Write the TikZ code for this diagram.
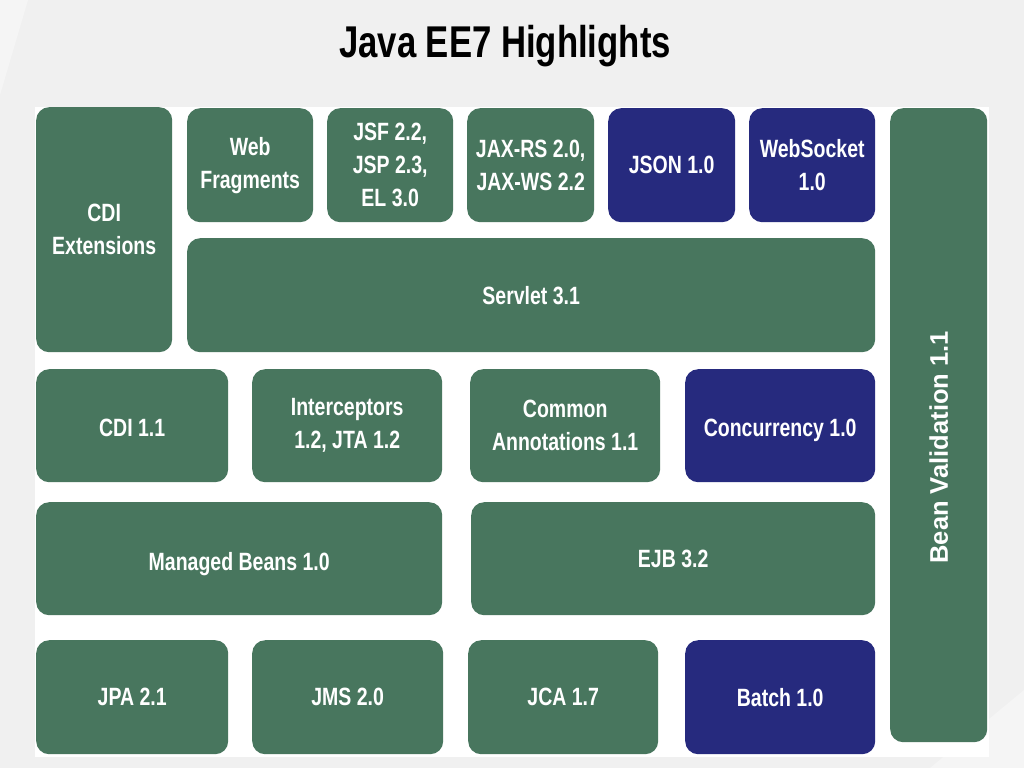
\documentclass[tikz,border=0pt]{standalone}
\usepackage{fontspec}
\setmainfont{Liberation Sans}
\newfontfamily\narrowfont[FakeStretch=0.78]{Liberation Sans}
\definecolor{bggray}{HTML}{F0F0F0}
\definecolor{eegreen}{HTML}{48765E}
\definecolor{eenavy}{HTML}{262A7E}
\tikzset{
  boxtext/.style={inner sep=0pt, text=white, align=center, font=\narrowfont\bfseries\fontsize{25}{33}\selectfont},
  box/.style={boxtext, rounded corners=13pt, anchor=north west},
  gbox/.style={box, fill=eegreen},
  nbox/.style={box, fill=eenavy},
}
\begin{document}
\begin{tikzpicture}[x=1pt,y=-1pt]
\fill[bggray] (0,0) rectangle (1024,768);
\useasboundingbox (0,0) rectangle (1024,768);
% faint decorative diagonals
\fill[white,opacity=0.35] (0,0) -- (28,0) -- (0,95) -- cycle;
\fill[white,opacity=0.35] (1024,690) -- (1024,768) -- (930,768) -- cycle;
% title
\node[font=\narrowfont\bfseries\fontsize{44.5}{50}\selectfont, anchor=base] (title) at (505,57) {Java EE7 Highlights};
% white panel
\fill[white] (35,107) rectangle (989,757);
% row 1
\node[gbox, minimum width=136pt, minimum height=245pt] (cdiext) at (36,107) {CDI\\Extensions};
\node[gbox, minimum width=126pt, minimum height=114pt] (webfrag) at (187,108) {Web\\Fragments};
\node[gbox, minimum width=126pt, minimum height=114pt] (jsf) at (327,108) {JSF 2.2,\\JSP 2.3,\\EL 3.0};
\node[gbox, minimum width=127pt, minimum height=114pt] (jaxrs) at (467,108) {JAX-RS 2.0,\\JAX-WS 2.2};
\node[nbox, minimum width=127pt, minimum height=114pt] (json) at (608,108) {JSON 1.0};
\node[nbox, minimum width=126pt, minimum height=114pt] (websocket) at (749,108) {WebSocket\\1.0};
% servlet
\node[gbox, minimum width=688pt, minimum height=114pt] (servlet) at (187,238) {Servlet 3.1};
% bean validation
\node[gbox, minimum width=97pt, minimum height=634pt] (beanval) at (890,108) {};
\node[rotate=90, text=white, font=\bfseries\fontsize{25.5}{30}\selectfont] (beanvaltext) at ([yshift=-22pt]beanval.center) {Bean Validation 1.1};
% row 3
\node[gbox, minimum width=192pt, minimum height=113pt] (cdi) at (36,369) {};
\node[boxtext] (cditext) at ([yshift=-2pt]cdi.center) {CDI 1.1};
\node[gbox, minimum width=190pt, minimum height=113pt] (interc) at (252,369) {Interceptors\\1.2, JTA 1.2};
\node[gbox, minimum width=190pt, minimum height=113pt] (common) at (470,369) {Common\\Annotations 1.1};
\node[nbox, minimum width=190pt, minimum height=113pt] (concur) at (685,369) {};
\node[boxtext] (concurtext) at ([yshift=-5pt]concur.center) {Concurrency 1.0};
% row 4
\node[gbox, minimum width=406pt, minimum height=113pt] (managed) at (36,502) {};
\node[boxtext] (managedtext) at ([yshift=-5pt]managed.center) {Managed Beans 1.0};
\node[gbox, minimum width=404pt, minimum height=113pt] (ejb) at (471,502) {EJB 3.2};
% row 5
\node[gbox, minimum width=192pt, minimum height=114pt] (jpa) at (36,640) {JPA 2.1};
\node[gbox, minimum width=191pt, minimum height=114pt] (jms) at (252,640) {JMS 2.0};
\node[gbox, minimum width=190pt, minimum height=114pt] (jca) at (468,640) {JCA 1.7};
\node[nbox, minimum width=190pt, minimum height=114pt] (batch) at (685,640) {Batch 1.0};
\end{tikzpicture}
\end{document}
